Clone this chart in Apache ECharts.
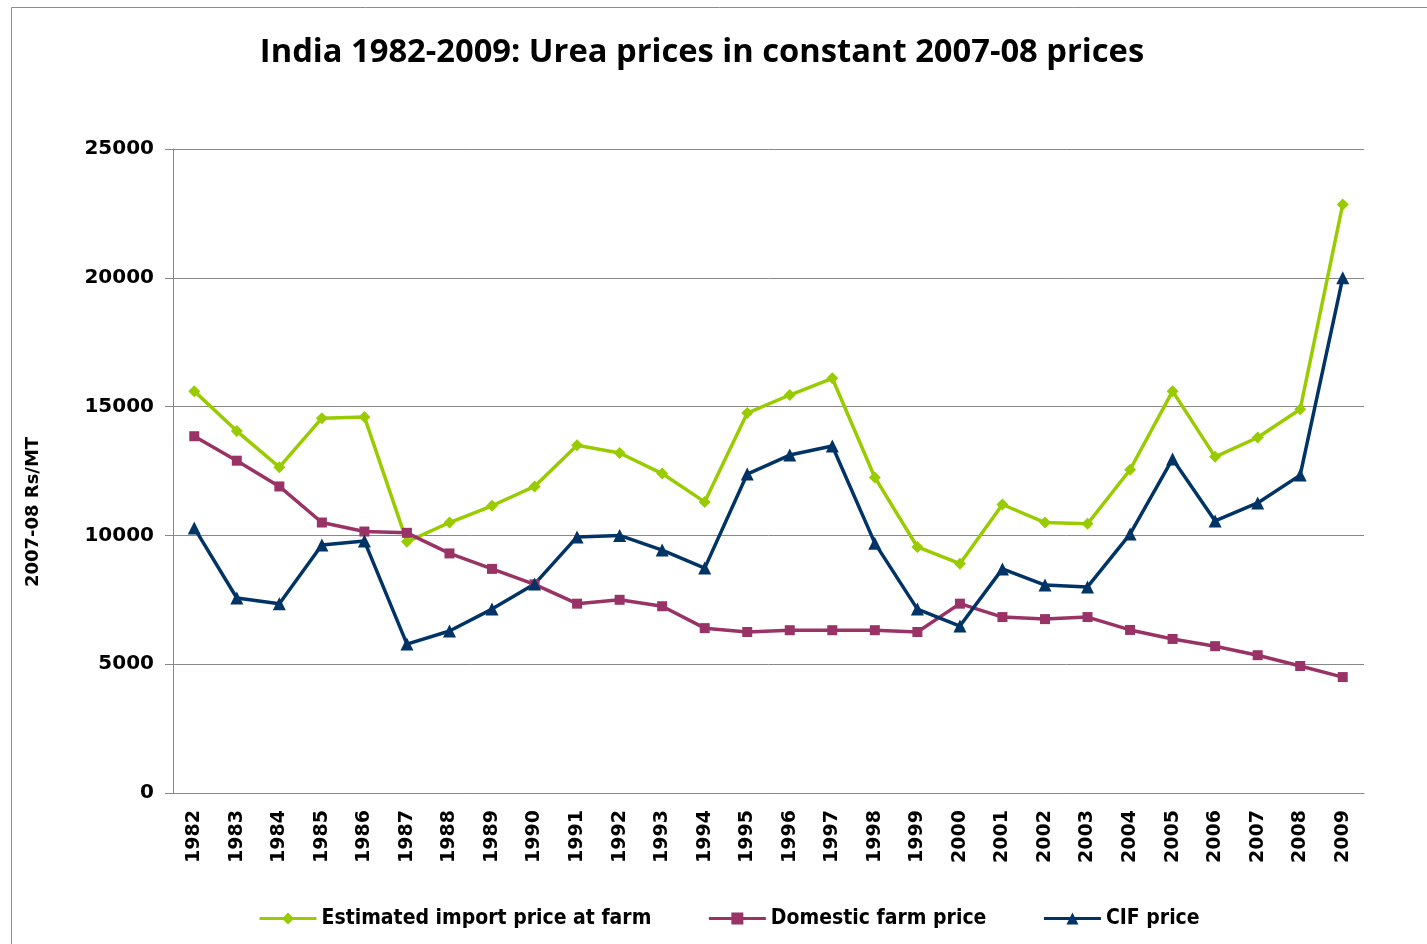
<!DOCTYPE html>
<html>
<head>
<meta charset="utf-8">
<style>
  html, body { margin: 0; padding: 0; background: #fff; }
  #chart { width: 1427px; height: 944px; }
</style>
<script src="https://cdn.jsdelivr.net/npm/echarts@6/dist/echarts.min.js"></script>
</head>
<body>
<div id="chart"></div>
<script>
// years on the x axis
var years = ['1982','1983','1984','1985','1986','1987','1988','1989','1990','1991','1992','1993','1994','1995',
  '1996','1997','1998','1999','2000','2001','2002','2003','2004','2005','2006','2007','2008','2009'];

// Rs/MT
var importPrice = [15600,14050,12650,14550,14600,9750,10500,11150,11900,13500,13200,12400,11300,14750,
  15450,16100,12250,9550,8900,11200,10500,10450,12550,15600,13050,13800,14900,22850];
var domesticPrice = [13850,12900,11900,10500,10150,10100,9300,8700,8100,7350,7500,7250,6400,6250,
  6320,6320,6320,6250,7350,6830,6750,6830,6330,5980,5700,5350,4930,4500];
var cifPrice = [10290,7570,7350,9630,9780,5780,6290,7140,8110,9940,10000,9430,8730,12380,
  13120,13470,9700,7140,6480,8700,8070,8000,10050,12970,10560,11260,12340,20000];

var yTicks = [0, 5000, 10000, 15000, 20000, 25000];

var myChart = echarts.init(document.getElementById('chart'));

var option = {
  backgroundColor: '#fff',
  animation: false,
  title: {
    text: 'India 1982-2009: Urea prices in constant 2007-08 prices',
    left: 697,
    textAlign: 'center',
    top: 31,
    textStyle: { fontFamily: 'Open Sans', fontWeight: 'bold', fontSize: 32.7, color: '#000' }
  },
  graphic: [{
    type: 'rect',
    shape: { x: 11.5, y: 7.5, width: 1430, height: 1000 },
    style: { fill: 'none', stroke: '#8c8c8c', lineWidth: 1 },
    silent: true
  }, {
    // y axis title
    type: 'text',
    x: 33,
    y: 512,
    rotation: Math.PI / 2,
    style: {
      text: '2007-08 Rs/MT',
      fontFamily: 'DejaVu Sans', fontWeight: 'bold', fontSize: 18, fill: '#000',
      align: 'center', verticalAlign: 'middle'
    },
    silent: true
  }],
  legend: {
    bottom: 10,
    left: 253,
    itemWidth: 57,
    itemHeight: 15,
    itemGap: 56,
    lineStyle: { width: 3 },
    textStyle: { fontFamily: 'DejaVu Sans Condensed', fontWeight: 'bold', fontSize: 21, color: '#000' },
    data: ['Estimated import price at farm', 'Domestic farm price', 'CIF price']
  },
  grid: { left: 173, right: 63, top: 149, bottom: 151 },
  xAxis: {
    type: 'category',
    data: years,
    boundaryGap: true,
    axisLine: { lineStyle: { color: '#888', width: 1 } },
    axisTick: { length: 7, lineStyle: { color: '#888' } },
    axisLabel: {
      rotate: 90, margin: 17, color: '#000',
      fontFamily: 'DejaVu Sans', fontWeight: 'bold', fontSize: 19
    }
  },
  yAxis: {
    type: 'value',
    min: 0,
    max: yTicks[yTicks.length - 1],
    interval: 5000,
    axisLine: { show: true, lineStyle: { color: '#888', width: 1 } },
    axisTick: { show: true, length: 8, lineStyle: { color: '#888' } },
    splitLine: { lineStyle: { color: '#888', width: 1 } },
    axisLabel: {
      margin: 19, color: '#000',
      fontFamily: 'DejaVu Sans', fontWeight: 'bold', fontSize: 20,
      formatter: function (v) { return String(v); }
    }
  },
  series: [
    {
      name: 'Estimated import price at farm',
      type: 'line',
      data: importPrice,
      symbol: 'diamond',
      symbolSize: 12,
      lineStyle: { width: 3.5, color: '#99CC00' },
      itemStyle: { color: '#99CC00' }
    },
    {
      name: 'Domestic farm price',
      type: 'line',
      data: domesticPrice,
      symbol: 'rect',
      symbolSize: 10,
      lineStyle: { width: 3.5, color: '#993366' },
      itemStyle: { color: '#993366' }
    },
    {
      name: 'CIF price',
      type: 'line',
      data: cifPrice,
      symbol: 'triangle',
      symbolSize: 13,
      lineStyle: { width: 3.5, color: '#003366' },
      itemStyle: { color: '#003366' }
    }
  ]
};

myChart.setOption(option);
window.addEventListener('resize', function () {
  myChart.resize();
});
</script>
</body>
</html>
